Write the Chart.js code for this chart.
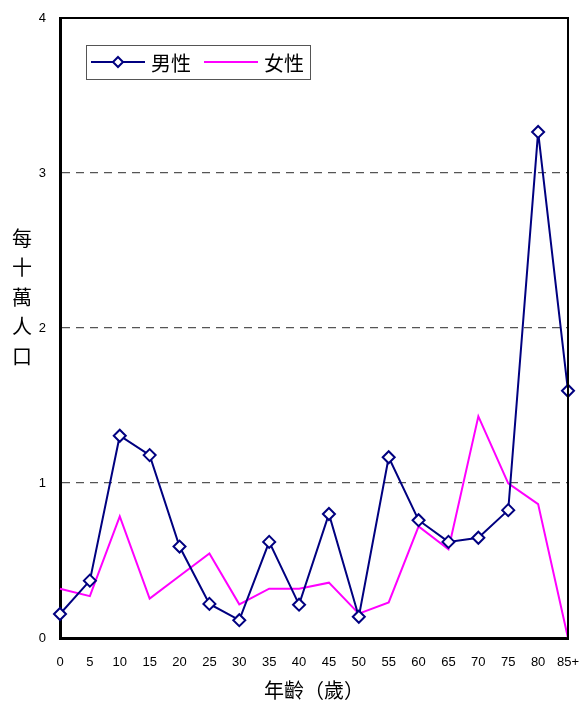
<!DOCTYPE html>
<html>
<head>
<meta charset="utf-8">
<script src="https://cdn.jsdelivr.net/npm/chart.js@4/dist/chart.umd.min.js"></script>
<style>
    html, body { margin: 0; padding: 0; background: #fff; }
    #wrap { width: 580px; height: 702px; position: relative; }
</style>
</head>
<body>
<div id="wrap"><canvas id="chart"></canvas></div>
<script>
const ageLabels = ["0", "5", "10", "15", "20", "25", "30", "35", "40", "45", "50", "55", "60", "65", "70", "75", "80", "85+"]
const maleRate = [0.155, 0.37, 1.305, 1.18, 0.59, 0.22, 0.115, 0.62, 0.215, 0.80, 0.137, 1.166, 0.76, 0.62, 0.647, 0.825, 3.265, 1.595]
const femaleRate = [0.318, 0.27, 0.785, 0.254, 0.40, 0.545, 0.217, 0.318, 0.318, 0.357, 0.157, 0.23, 0.72, 0.573, 1.43, 0.998, 0.864, 0]
const seriesNames = ["男性", "女性"]
const yTitle = ["每", "十", "萬", "人", "口"]
const xTitle = "年齡（歲）"

const cjk = "'Noto Sans CJK TC', 'Noto Sans', sans-serif"
const latin = "'Liberation Sans', Arial, sans-serif"

// frame on top/right, stacked y title, legend box with line + marker
const extras = {
    id: "extras",
    afterDraw(chart) {
        let ctx = chart.ctx
        let a = chart.chartArea
        ctx.save()
        ctx.strokeStyle = "#000"
        ctx.lineWidth = 2
        ctx.beginPath()
        ctx.moveTo(a.left, a.top)
        ctx.lineTo(a.right, a.top)
        ctx.lineTo(a.right, a.bottom)
        ctx.stroke()

        ctx.fillStyle = "#000"
        ctx.font = "20px " + cjk
        ctx.textAlign = "center"
        ctx.textBaseline = "middle"
        yTitle.forEach((ch, i) => ctx.fillText(ch, 22, 238 + i * 29.5))

        // legend
        ctx.strokeStyle = "#555"
        ctx.lineWidth = 1
        ctx.strokeRect(86.5, 45.5, 224, 34)
        let ds = chart.data.datasets
        ctx.lineWidth = 2
        ctx.strokeStyle = ds[0].borderColor
        ctx.beginPath()
        ctx.moveTo(91, 62)
        ctx.lineTo(145, 62)
        ctx.stroke()
        ctx.fillStyle = "#fff"
        ctx.beginPath()
        ctx.moveTo(118, 57)
        ctx.lineTo(123, 62)
        ctx.lineTo(118, 67)
        ctx.lineTo(113, 62)
        ctx.closePath()
        ctx.fill()
        ctx.stroke()
        ctx.strokeStyle = ds[1].borderColor
        ctx.beginPath()
        ctx.moveTo(204, 62)
        ctx.lineTo(258, 62)
        ctx.stroke()
        ctx.fillStyle = "#000"
        ctx.textAlign = "left"
        ctx.fillText(seriesNames[0], 151, 63)
        ctx.fillText(seriesNames[1], 264, 63)
        ctx.restore()
    }
}

let config = {
    type: "line",
    data: {
        labels: ageLabels,
        datasets: [
            {
                label: seriesNames[0],
                data: maleRate,
                borderColor: "#000080",
                borderWidth: 2,
                tension: 0,
                pointStyle: "rectRot",
                pointRadius: 6,
                pointBorderWidth: 2,
                pointBackgroundColor: "#fff",
                pointBorderColor: "#000080",
                order: 0
            },
            {
                label: seriesNames[1],
                data: femaleRate,
                borderColor: "#ff00ff",
                borderWidth: 2,
                tension: 0,
                pointRadius: 0,
                order: 1
            }
        ]
    },
    options: {
        responsive: false,
        animation: false,
        layout: { padding: { top: 18, right: 12, left: 0, bottom: 0 } },
        plugins: {
            legend: { display: false },
            tooltip: { enabled: false }
        },
        scales: {
            x: {
                type: "category",
                offset: false,
                grid: { display: false, drawTicks: false },
                border: { color: "#000", width: 3 },
                ticks: {
                    color: "#000",
                    font: { family: latin, size: 13 },
                    padding: 17,
                    maxRotation: 0,
                    autoSkip: false
                },
                title: {
                    display: true,
                    text: xTitle,
                    color: "#000",
                    font: { family: cjk, size: 20 },
                    padding: { top: 11, bottom: 0 }
                },
                afterFit: (s) => {
                    s.height = 64
                    s.paddingRight = 0
                    s.paddingLeft = 0
                }
            },
            y: {
                min: 0,
                max: 4,
                ticks: {
                    stepSize: 1,
                    color: "#000",
                    font: { family: latin, size: 13 },
                    padding: 14
                },
                grid: {
                    drawTicks: false,
                    lineWidth: 1.3,
                    color: (c) => (c.tick && c.tick.value > 0 && c.tick.value < 4) ? "#555" : "rgba(0,0,0,0)"
                },
                border: { color: "#000", width: 3, dash: [8, 6] },
                afterFit: (s) => {
                    s.width = 60
                    s.paddingTop = 0
                    s.paddingBottom = 0
                }
            }
        }
    },
    plugins: [extras]
}

let canvas = document.querySelector("#chart")
canvas.width = 580
canvas.height = 702
const myChart = new Chart(canvas, config)
</script>
</body>
</html>
